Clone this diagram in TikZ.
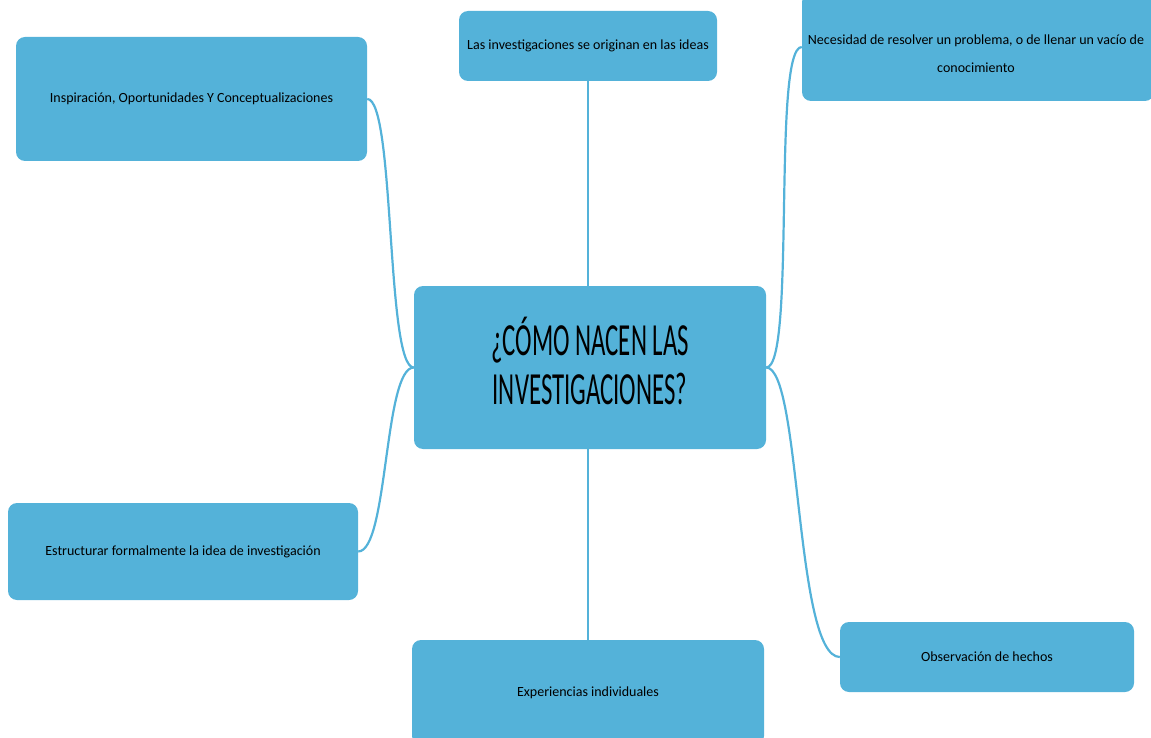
\documentclass[tikz,border=0pt]{standalone}
\usepackage{fontspec}
\setmainfont{Carlito}
\definecolor{boxblue}{RGB}{84,178,217}
\newcommand{\titlefont}{\fontsize{46}{50}\selectfont}
\begin{document}
\begin{tikzpicture}[x=1pt,y=-1pt,
  box/.style={draw=none,fill=boxblue,rounded corners=9pt,align=center,text=black,inner sep=0pt,font=\fontsize{14}{28}\selectfont},
  label text/.style={align=center,text=black,inner sep=0pt,font=\fontsize{14}{28}\selectfont},
  link/.style={draw=boxblue,line width=2.2pt}]
\useasboundingbox (0,0) rectangle (1151,738);
\node[box,minimum width=352pt,minimum height=163pt] (c) at (590,367.5) {};
\node[label text] (ct) at (590,361)
  {\scalebox{0.54}[1]{\titlefont ¿CÓMO NACEN LAS}\\[8pt]\scalebox{0.54}[1]{\titlefont INVESTIGACIONES?}};
\node[box,minimum width=258pt,minimum height=70pt] (t) at (588,46) {Las investigaciones se originan en las ideas};
\node[box,minimum width=351pt,minimum height=124pt] (tl) at (191.5,99) {Inspiración, Oportunidades Y Conceptualizaciones};
\node[box,minimum width=352pt,minimum height=108pt] (tr) at (978,47) {};
\node[label text] (trt) at (976,54) {Necesidad de resolver un problema, o de llenar un vacío de\\conocimiento};
\node[box,minimum width=350pt,minimum height=97pt] (bl) at (183,551.5) {Estructurar formalmente la idea de investigación};
\node[box,minimum width=352pt,minimum height=105pt] (b) at (588,692.5) {Experiencias individuales};
\node[box,minimum width=294pt,minimum height=70pt] (br) at (987,657) {Observación de hechos};
\draw[link] (t.south) -- (t.south |- c.north);
\draw[link] (b.north) -- (b.north |- c.south);
\draw[link] (tl.east) .. controls +(28,0) and +(-28,0) .. (c.west);
\draw[link] (bl.east) .. controls +(30,0) and +(-30,0) .. (c.west);
\draw[link] (tr.west) .. controls +(-30,0) and +(30,0) .. (c.east);
\draw[link] (br.west) .. controls +(-45,0) and +(35,0) .. (c.east);
\end{tikzpicture}
\end{document}
